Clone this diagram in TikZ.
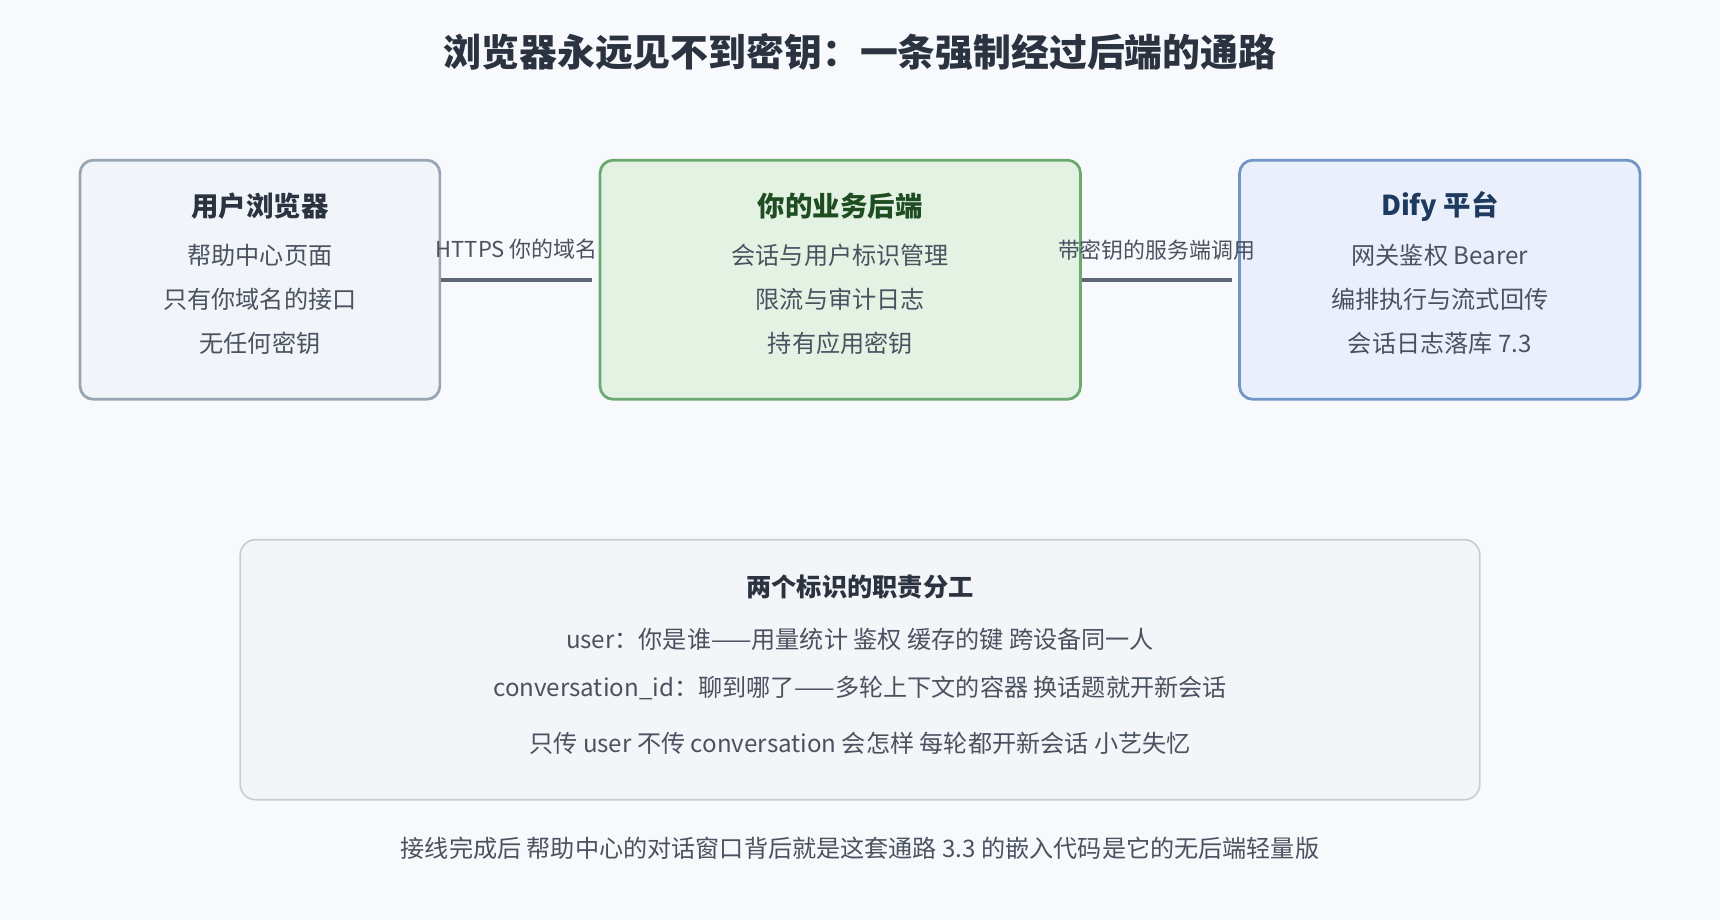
\documentclass[tikz,border=0pt]{standalone}
\usepackage{fontspec}
\setmainfont{Noto Sans CJK SC}
\usetikzlibrary{positioning}
\definecolor{bgc}{HTML}{F7F9FC}
\definecolor{ink}{HTML}{2B3340}
\definecolor{txt}{HTML}{4A5260}
\definecolor{wire}{HTML}{5F6673}
\definecolor{grayfill}{HTML}{F1F4F8}
\definecolor{grayline}{HTML}{9AA5B4}
\definecolor{greenfill}{HTML}{E3F2E3}
\definecolor{greenline}{HTML}{6AAA6F}
\definecolor{greenink}{HTML}{1F4D22}
\definecolor{bluefill}{HTML}{EAF0FB}
\definecolor{blueline}{HTML}{7096C8}
\definecolor{blueink}{HTML}{1E3A5F}
\definecolor{notefill}{HTML}{F4F5F8}
\definecolor{noteline}{HTML}{C8CCD3}
\begin{document}
\begin{tikzpicture}[x=1pt,y=-1pt,
    box/.style={draw, line width=2.5pt, rounded corners=12pt, minimum height=218pt},
    head/.style={font=\fontsize{25}{28}\selectfont\bfseries},
    item/.style={font=\fontsize{22}{26}\selectfont, text=txt},
    wirelbl/.style={font=\fontsize{20}{24}\selectfont, text=txt},
    wire/.style={draw=wire, line width=3.5pt}
]

% background
\fill[bgc] (0,0) rectangle (1568,839);
\useasboundingbox (0,0) rectangle (1568,839);
\node[font=\fontsize{34.5}{40}\selectfont\bfseries, text=ink] (title) at (784,47) {浏览器永远见不到密钥：一条强制经过后端的通路};

% three boxes
\node[box, draw=grayline, fill=grayfill, minimum width=328pt] (browser) at (237,255) {};
\node[box, draw=greenline, fill=greenfill, minimum width=438pt] (backend) at (766,255) {};
\node[box, draw=blueline, fill=bluefill, minimum width=365pt] (dify) at (1312.5,255) {};

\node[head, text=ink] at (237,188) {用户浏览器};
\node[item] at (237,233) {帮助中心页面};
\node[item] at (237,273) {只有你域名的接口};
\node[item] at (237,313) {无任何密钥};

\node[head, text=greenink] at (766,188) {你的业务后端};
\node[item] at (766,233) {会话与用户标识管理};
\node[item] at (766,273) {限流与审计日志};
\node[item] at (766,313) {持有应用密钥};

\node[head, text=blueink] at (1312.5,188) {Dify 平台};
\node[item] at (1312.5,233) {网关鉴权 Bearer};
\node[item] at (1312.5,273) {编排执行与流式回传};
\node[item] at (1312.5,313) {会话日志落库 7.3};

% connectors
\draw[wire] (browser.east) -- ([xshift=-6pt]backend.west)
    node[wirelbl, midway, above=14pt] {HTTPS 你的域名};
\draw[wire] (backend.east) -- ([xshift=-6pt]dify.west)
    node[wirelbl, midway, above=13pt] {带密钥的服务端调用};

% note
\node[draw=noteline, line width=1.5pt, fill=notefill, rounded corners=14pt,
      minimum width=1130pt, minimum height=237pt] (note) at (784,610.5) {};
\node[font=\fontsize{23}{27}\selectfont\bfseries, text=ink] at (784,535) {两个标识的职责分工};
\node[item] at (784,583) {user：你是谁——用量统计 鉴权 缓存的键 跨设备同一人};
\node[item] at (784,627) {conversation\_id：聊到哪了——多轮上下文的容器 换话题就开新会话};
\node[item] at (784,678) {只传 user 不传 conversation 会怎样 每轮都开新会话 小艺失忆};

\node[item] (foot) at (784,773) {接线完成后 帮助中心的对话窗口背后就是这套通路 3.3 的嵌入代码是它的无后端轻量版};
\end{tikzpicture}
\end{document}
